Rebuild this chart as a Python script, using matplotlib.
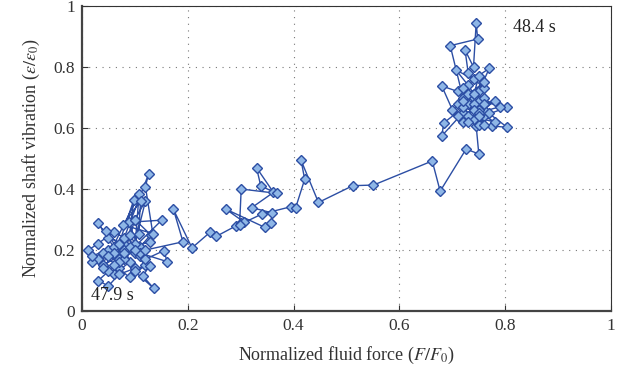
import matplotlib
matplotlib.use("Agg")
import matplotlib.pyplot as plt

plt.rcParams['font.family'] = ['Liberation Serif', 'DejaVu Serif']
plt.rcParams['mathtext.fontset'] = 'stix'

# Trajectory: lower-left cluster (47.9 s) -> transition -> upper-right cluster (48.4 s)
force = [
    0.03, 0.05, 0.04, 0.07, 0.06, 0.09, 0.08, 0.05, 0.03, 0.06,
    0.10, 0.12, 0.09, 0.07, 0.04, 0.02, 0.012, 0.03, 0.06, 0.08,
    0.11, 0.13, 0.10, 0.12, 0.10, 0.07, 0.05, 0.031, 0.05, 0.07,
    0.10, 0.128, 0.115, 0.136, 0.10, 0.08, 0.045, 0.08, 0.11, 0.09,
    0.128, 0.06, 0.04, 0.02, 0.07, 0.098, 0.09, 0.12, 0.155, 0.161,
    0.11, 0.089, 0.151, 0.07, 0.05, 0.108, 0.10, 0.06, 0.126, 0.120,
    0.134, 0.078, 0.111, 0.107, 0.10, 0.08, 0.12, 0.191, 0.173, 0.208,
    0.242, 0.254, 0.291, 0.301, 0.307, 0.272, 0.346, 0.358, 0.359, 0.321,
    0.362, 0.330, 0.338, 0.368, 0.301, 0.298, 0.340, 0.395, 0.404, 0.421,
    0.414, 0.447, 0.512, 0.551, 0.662, 0.677, 0.726, 0.750, 0.745, 0.72,
    0.680, 0.684, 0.73, 0.71, 0.680, 0.70, 0.74, 0.76, 0.803, 0.75,
    0.72, 0.775, 0.804, 0.76, 0.73, 0.707, 0.74, 0.770, 0.75, 0.72,
    0.696, 0.748, 0.745, 0.74, 0.724, 0.73, 0.76, 0.71, 0.75, 0.78,
    0.74, 0.72, 0.76, 0.73, 0.77, 0.75, 0.71, 0.74, 0.76, 0.72,
    0.75, 0.73, 0.78, 0.74, 0.76, 0.72, 0.75, 0.79, 0.74, 0.73,
    0.76, 0.75,
]
vibration = [
    0.17, 0.20, 0.15, 0.18, 0.12, 0.16, 0.22, 0.24, 0.29, 0.21,
    0.19, 0.15, 0.11, 0.14, 0.19, 0.16, 0.20, 0.22, 0.26, 0.24,
    0.21, 0.25, 0.30, 0.36, 0.22, 0.17, 0.13, 0.10, 0.082, 0.12,
    0.14, 0.148, 0.115, 0.074, 0.13, 0.17, 0.262, 0.20, 0.18, 0.21,
    0.227, 0.19, 0.14, 0.18, 0.22, 0.364, 0.25, 0.17, 0.198, 0.162,
    0.19, 0.291, 0.298, 0.16, 0.18, 0.384, 0.20, 0.15, 0.449, 0.408,
    0.254, 0.282, 0.362, 0.254, 0.298, 0.19, 0.20, 0.227, 0.333, 0.207,
    0.258, 0.245, 0.279, 0.287, 0.291, 0.334, 0.274, 0.287, 0.322, 0.339,
    0.389, 0.470, 0.410, 0.386, 0.400, 0.283, 0.318, 0.342, 0.339, 0.432,
    0.495, 0.356, 0.411, 0.413, 0.492, 0.393, 0.531, 0.515, 0.608, 0.65,
    0.574, 0.617, 0.68, 0.72, 0.738, 0.66, 0.70, 0.64, 0.668, 0.69,
    0.62, 0.607, 0.602, 0.66, 0.74, 0.790, 0.76, 0.796, 0.72, 0.70,
    0.870, 0.892, 0.943, 0.80, 0.856, 0.78, 0.73, 0.68, 0.66, 0.69,
    0.63, 0.67, 0.75, 0.71, 0.65, 0.61, 0.64, 0.68, 0.70, 0.73,
    0.77, 0.64, 0.62, 0.66, 0.68, 0.69, 0.65, 0.67, 0.71, 0.62,
    0.61, 0.64,
]

ticks = [0, 0.2, 0.4, 0.6, 0.8, 1]
tick_labels = ['0', '0.2', '0.4', '0.6', '0.8', '1']

fig = plt.figure(figsize=(6.3, 3.77), dpi=100)
ax = fig.add_axes([0.130, 0.175, 0.840, 0.809])

ax.plot(force, vibration, '-', color='#2C4EA4', lw=1.0,
        marker='D', markersize=4.8, markerfacecolor='#8EB6E6',
        markeredgecolor='#2C4EA4', markeredgewidth=1.0, zorder=3)

ax.set_xlim(0, 1)
ax.set_ylim(0, 1)
ax.set_xticks(ticks)
ax.set_yticks(ticks)
ax.set_xticklabels(tick_labels)
ax.set_yticklabels(tick_labels)
ax.tick_params(direction='in', length=4, width=0.8, labelsize=12.5,
               colors='#333333', pad=5)
ax.grid(True, linestyle=(0, (1, 5)), color='#777777', linewidth=0.8)

for side in ['left', 'bottom']:
    ax.spines[side].set_linewidth(1.6)
    ax.spines[side].set_color('#444444')
for side in ['top', 'right']:
    ax.spines[side].set_linewidth(0.8)
    ax.spines[side].set_color('#333333')

ax.set_xlabel('Normalized fluid force ($F/F_0$)', fontsize=13, color='#333333', labelpad=8)
ax.set_ylabel(r'Normalized shaft vibration ($\varepsilon/\varepsilon_0$)', fontsize=13,
              color='#333333', labelpad=8)

ax.text(0.018, 0.035, '47.9 s', fontsize=13, color='#222222')
ax.text(0.815, 0.915, '48.4 s', fontsize=13, color='#222222')

fig.savefig('out.png', dpi=100)
